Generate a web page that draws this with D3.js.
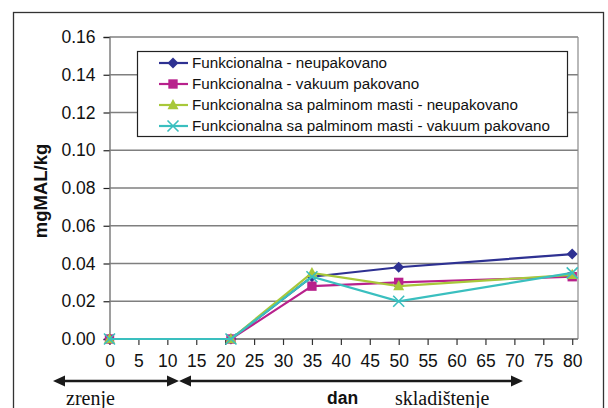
<!DOCTYPE html>
<html>
<head>
<meta charset="utf-8">
<script src="https://cdn.jsdelivr.net/npm/d3@7/dist/d3.min.js"></script>
<style>
  html, body { margin: 0; padding: 0; background: #fff; }
  svg { display: block; }
</style>
</head>
<body>
<svg id="chart" width="608" height="408"></svg>
<script>
// Storage days (x) and measured values in mg MAL/kg
const days = [0, 21, 35, 50, 80];
const seriesNames = [
  "Funkcionalna - neupakovano",
  "Funkcionalna - vakuum pakovano",
  "Funkcionalna sa palminom masti - neupakovano",
  "Funkcionalna sa palminom masti - vakuum pakovano"
];
const neupakovano       = [0, 0, 0.033, 0.038, 0.045];
const vakuum            = [0, 0, 0.028, 0.030, 0.033];
const palmaNeupakovano  = [0, 0, 0.035, 0.028, 0.034];
const palmaVakuum       = [0, 0, 0.033, 0.020, 0.035];
const xTicks = d3.range(0, 81, 5);
const yTicks = [0, 0.02, 0.04, 0.06, 0.08, 0.10, 0.12, 0.14, 0.16];

const colors = ["#2e3192", "#b8218c", "#a8c83a", "#3abfbf"];
const symbols = ["diamond", "square", "triangle", "cross"];
const seriesValues = [neupakovano, vakuum, palmaNeupakovano, palmaVakuum];

const sans = "'Liberation Sans', Arial, sans-serif";
const serif = "'Liberation Serif', 'Times New Roman', serif";

const svg = d3.select("#chart");
const plot = { left: 109.5, right: 578, top: 37, bottom: 339 };

const x = d3.scaleLinear().domain([0, 81]).range([plot.left, plot.right]);
const y = d3.scaleLinear().domain([0, 0.16]).range([plot.bottom, plot.top]);

// outer frame
svg.append("rect")
  .attr("x", 13.5).attr("y", 12.5).attr("width", 590).attr("height", 420)
  .attr("fill", "none").attr("stroke", "#333").attr("stroke-width", 1.3);

// horizontal grid
svg.append("g").selectAll("line").data(yTicks).join("line")
  .attr("x1", plot.left).attr("x2", plot.right)
  .attr("y1", d => y(d)).attr("y2", d => y(d))
  .attr("stroke", "#7f7f7f").attr("stroke-width", 1.5);

// plot area right edge
svg.append("line")
  .attr("x1", plot.right).attr("x2", plot.right)
  .attr("y1", plot.top).attr("y2", plot.bottom)
  .attr("stroke", "#8a8a8a").attr("stroke-width", 1.2);

// y axis
const yAxis = d3.axisLeft(y).tickValues(yTicks).tickFormat(d3.format(".2f"))
  .tickSize(6).tickPadding(8);
const gy = svg.append("g").attr("transform", `translate(${plot.left},0)`).call(yAxis);
gy.select(".domain").attr("stroke", "#7f7f7f").attr("stroke-width", 1.5);
gy.selectAll(".tick line").attr("stroke", "#222").attr("stroke-width", 1.2);
gy.selectAll(".tick text").attr("font-family", sans)
  .attr("font-size", 17.5).attr("fill", "#111");

// x axis
const xAxis = d3.axisBottom(x).tickValues(xTicks).tickFormat(d3.format("d"))
  .tickSize(6).tickPadding(10);
const gx = svg.append("g").attr("transform", `translate(0,${plot.bottom})`).call(xAxis);
gx.select(".domain").attr("stroke", "#7f7f7f").attr("stroke-width", 1.5)
  .attr("d", `M${plot.left},0H${plot.right}`);
gx.selectAll(".tick line").attr("stroke", "#333").attr("stroke-width", 1.2);
gx.selectAll(".tick text").attr("font-family", sans)
  .attr("font-size", 17.5).attr("fill", "#111");

// axis title
svg.append("text")
  .attr("transform", "translate(47,191) rotate(-90)")
  .attr("text-anchor", "middle")
  .attr("font-family", sans)
  .attr("font-weight", "bold").attr("font-size", 18.5).attr("fill", "#111")
  .text("mgMAL/kg");

// marker shapes
function marker(sel, kind, color, s) {
  if (kind === "diamond") {
    sel.append("path").attr("d", `M0,${-s}L${s},0L0,${s}L${-s},0Z`).attr("fill", color);
  } else if (kind === "square") {
    sel.append("rect").attr("x", -s * 0.85).attr("y", -s * 0.85)
      .attr("width", s * 1.7).attr("height", s * 1.7).attr("fill", color);
  } else if (kind === "triangle") {
    sel.append("path").attr("d", `M0,${-s * 1.1}L${s},${s * 0.75}L${-s},${s * 0.75}Z`).attr("fill", color);
  } else {
    sel.append("path").attr("d", `M${-s},${-s}L${s},${s}M${-s},${s}L${s},${-s}`)
      .attr("stroke", color).attr("stroke-width", 1.6).attr("fill", "none");
  }
}

const line = d3.line().x(d => x(d[0])).y(d => y(d[1]));

seriesValues.forEach((vals, i) => {
  const pts = days.map((d, j) => [d, vals[j]]);
  const g = svg.append("g");
  g.append("path").datum(pts).attr("d", line)
    .attr("fill", "none").attr("stroke", colors[i]).attr("stroke-width", 2.2);
  g.selectAll("g.m").data(pts).join("g").attr("class", "m")
    .attr("transform", d => `translate(${x(d[0])},${y(d[1])})`)
    .each(function () { marker(d3.select(this), symbols[i], colors[i], 5.5); });
});

// legend
const leg = { x: 137.5, y: 51.5, w: 430, h: 85 };
svg.append("rect").attr("x", leg.x).attr("y", leg.y).attr("width", leg.w).attr("height", leg.h)
  .attr("fill", "#fff").attr("stroke", "#222").attr("stroke-width", 1.2);
seriesNames.forEach((name, i) => {
  const cy = 63 + i * 21;
  const g = svg.append("g");
  g.append("line").attr("x1", 159).attr("x2", 188).attr("y1", cy).attr("y2", cy)
    .attr("stroke", colors[i]).attr("stroke-width", 2.2);
  const m = g.append("g").attr("transform", `translate(173,${cy})`);
  marker(m, symbols[i], colors[i], 5.5);
  g.append("text").attr("x", 192).attr("y", cy + 5)
    .attr("font-family", sans)
    .attr("font-size", 15.2).attr("fill", "#111").text(name);
});

// phase arrows under the axis
const ay = 381;
function arrow(x1, x2) {
  const g = svg.append("g").attr("fill", "#1a1a1a");
  g.append("line").attr("x1", x1 + 8).attr("x2", x2 - 8).attr("y1", ay).attr("y2", ay)
    .attr("stroke", "#1a1a1a").attr("stroke-width", 2.6);
  g.append("path").attr("d", `M${x1},${ay}L${x1 + 12},${ay - 5.5}L${x1 + 12},${ay + 5.5}Z`);
  g.append("path").attr("d", `M${x2},${ay}L${x2 - 12},${ay - 5.5}L${x2 - 12},${ay + 5.5}Z`);
}
arrow(53, 179);
arrow(179, 523);

svg.append("text").attr("x", 66).attr("y", 405)
  .attr("font-family", serif)
  .attr("font-size", 20).attr("fill", "#111").text("zrenje");
svg.append("text").attr("x", 327).attr("y", 404)
  .attr("font-family", sans)
  .attr("font-weight", "bold").attr("font-size", 17.5).attr("fill", "#111").text("dan");
svg.append("text").attr("x", 395).attr("y", 405)
  .attr("font-family", serif)
  .attr("font-size", 20).attr("fill", "#111").text("skladištenje");
</script>
</body>
</html>
